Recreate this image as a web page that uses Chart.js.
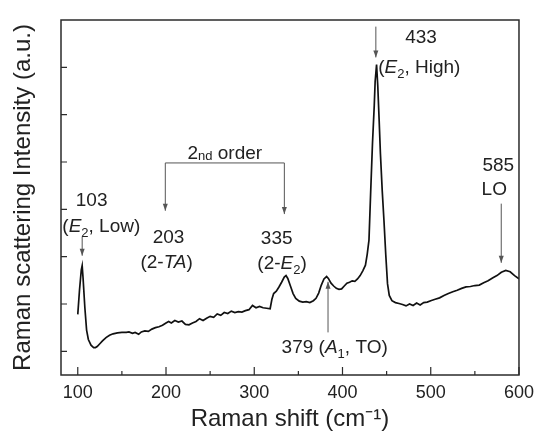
<!DOCTYPE html>
<html>
<head>
<meta charset="utf-8">
<script src="https://cdn.jsdelivr.net/npm/chart.js@4.4.0/dist/chart.umd.min.js"></script>
<style>
  html, body { margin: 0; padding: 0; background: #fff; }
</style>
</head>
<body>
<canvas id="raman-chart" width="541" height="436"></canvas>
<script>
// Raman shift (cm-1)
const ramanShift = [100, 102, 104, 105, 106, 108, 110, 112, 115, 118, 120, 122, 125, 128, 132, 136, 140, 145, 150, 155,
  158, 162, 165, 169, 172, 176, 180, 184, 188, 192, 196, 200, 203, 206, 210, 214, 218, 222, 226, 230,
  234, 238, 242, 246, 250, 254, 258, 262, 266, 270, 274, 278, 282, 286, 290, 294, 298, 302, 306, 310,
  314, 318, 320, 322, 325, 328, 331, 334, 336, 338, 341, 344, 347, 351, 355, 359, 363, 367, 370, 373,
  376, 379, 382, 384, 387, 390, 393, 396, 399, 402, 405, 408, 411, 414, 417, 420, 423, 426, 428, 430,
  432, 434, 436, 437, 438.6, 440, 441.5, 443, 445, 447, 449, 451, 453, 456, 460, 464, 468, 472, 476, 480,
  484, 488, 492, 496, 500, 505, 510, 515, 520, 525, 530, 535, 540, 545, 550, 555, 560, 565, 570, 575,
  580, 585, 590, 595, 600];
// intensity (a.u.)
const intensity = [1.78, 2.30, 2.72, 2.81, 2.55, 1.93, 1.45, 1.25, 1.13, 1.08, 1.08, 1.10, 1.16, 1.22, 1.29, 1.34, 1.37, 1.39, 1.40, 1.40,
  1.41, 1.38, 1.40, 1.36, 1.41, 1.43, 1.42, 1.47, 1.50, 1.52, 1.55, 1.60, 1.63, 1.60, 1.65, 1.62, 1.64, 1.57, 1.56, 1.60,
  1.63, 1.69, 1.65, 1.70, 1.74, 1.72, 1.79, 1.76, 1.82, 1.80, 1.85, 1.82, 1.84, 1.83, 1.86, 1.88, 1.97, 1.92, 1.95, 1.92,
  1.91, 1.90, 2.10, 2.22, 2.27, 2.36, 2.46, 2.57, 2.60, 2.54, 2.38, 2.22, 2.12, 2.06, 2.04, 2.05, 2.03, 2.07, 2.12, 2.23,
  2.40, 2.53, 2.58, 2.54, 2.44, 2.38, 2.33, 2.31, 2.32, 2.38, 2.44, 2.46, 2.49, 2.48, 2.53, 2.60, 2.70, 2.82, 3.05, 3.35,
  4.40, 5.40, 6.20, 6.70, 7.06, 6.60, 5.90, 5.17, 4.40, 3.76, 3.05, 2.43, 2.18, 2.07, 2.03, 2.01, 1.99, 1.96, 2.00, 1.97,
  2.02, 1.98, 2.03, 2.04, 2.07, 2.10, 2.13, 2.18, 2.22, 2.26, 2.29, 2.33, 2.36, 2.37, 2.39, 2.40, 2.45, 2.49, 2.55, 2.60,
  2.67, 2.71, 2.68, 2.60, 2.53];

const xTicks = [100, 200, 300, 400, 500, 600];
const xMinorTicks = [150, 250, 350, 450, 550];
const yTicks = [1, 2, 3, 4, 5, 6, 7];

const FONT = '"Liberation Sans", Arial, sans-serif';

// peak labels (text pieces), placed in data units
const labels = [
  { x: 115.7, y: 4.18, align: "center", parts: [{ t: "103" }] },
  { x: 82.5, y: 3.63, align: "left", parts: [{ t: "(" }, { t: "E", it: true }, { t: "2", sub: true }, { t: ", Low)" }] },
  { x: 266.6, y: 5.17, align: "center", parts: [{ t: "2" }, { t: "nd", small: true }, { t: " order" }] },
  { x: 202.9, y: 3.40, align: "center", parts: [{ t: "203" }] },
  { x: 200.7, y: 2.87, align: "center", parts: [{ t: "(2-" }, { t: "TA", it: true }, { t: ")" }] },
  { x: 325.4, y: 3.38, align: "center", parts: [{ t: "335" }] },
  { x: 331.5, y: 2.85, align: "center", parts: [{ t: "(2-" }, { t: "E", it: true }, { t: "2", sub: true }, { t: ")" }] },
  { x: 331, y: 1.08, align: "left", parts: [{ t: "379 (" }, { t: "A", it: true }, { t: "1", sub: true }, { t: ", TO)" }] },
  { x: 489, y: 7.63, align: "center", parts: [{ t: "433" }] },
  { x: 440.5, y: 7.0, align: "left", parts: [{ t: "(" }, { t: "E", it: true }, { t: "2", sub: true }, { t: ", High)" }] },
  { x: 576.5, y: 4.92, align: "center", parts: [{ t: "585" }] },
  { x: 572, y: 4.41, align: "center", parts: [{ t: "LO" }] },
];

// arrows: x, from y1 to tip at y2 (data units)
const arrows = [
  { x: 105, y1: 3.42, y2: 3.02 },
  { x: 383.6, y1: 1.40, y2: 2.47 },
  { x: 437.8, y1: 7.86, y2: 7.21 },
  { x: 579.9, y1: 4.12, y2: 2.87 },
  { x: 199.2, y1: 4.98, y2: 3.97 },
  { x: 334.1, y1: 4.98, y2: 3.90 },
];
// the horizontal part of the "2nd order" bracket
const bracket = { x1: 199.2, x2: 334.1, y: 4.98 };

function drawRich(ctx, parts, x, y, align) {
  let total = 0;
  const fonts = parts.map(p => {
    const size = p.sub || p.small ? 13 : 19;
    const f = (p.it ? "italic " : "") + size + "px " + FONT;
    ctx.font = f;
    const w = ctx.measureText(p.t).width;
    total += w;
    return { f, w };
  });
  let cx = align === "center" ? x - total / 2 : x;
  ctx.textAlign = "left";
  ctx.textBaseline = "middle";
  parts.forEach((p, i) => {
    ctx.font = fonts[i].f;
    let dy = 0;
    if (p.sub) dy = 7;
    if (p.small) dy = 2;
    ctx.fillText(p.t, cx, y + dy);
    cx += fonts[i].w;
  });
}

function arrowHead(ctx, x, y, dir) {
  // dir = 1 pointing down, -1 pointing up
  ctx.beginPath();
  ctx.moveTo(x, y);
  ctx.lineTo(x - 2.5, y - dir * 7);
  ctx.lineTo(x + 2.5, y - dir * 7);
  ctx.closePath();
  ctx.fill();
}

const framePlugin = {
  id: "frame",
  afterDatasetsDraw(chart) {
    const { ctx, chartArea, scales } = chart;
    const xs = scales.x, ys = scales.y;
    ctx.save();

    // box round the plot
    ctx.strokeStyle = "#2b2b2b";
    ctx.lineWidth = 1.5;
    ctx.strokeRect(chartArea.left, chartArea.top, chartArea.right - chartArea.left, chartArea.bottom - chartArea.top);

    // inward ticks
    ctx.lineWidth = 1.2;
    ctx.beginPath();
    xTicks.forEach(v => {
      const px = xs.getPixelForValue(v);
      ctx.moveTo(px, chartArea.bottom);
      ctx.lineTo(px, chartArea.bottom - 8);
    });
    xMinorTicks.forEach(v => {
      const px = xs.getPixelForValue(v);
      ctx.moveTo(px, chartArea.bottom);
      ctx.lineTo(px, chartArea.bottom - 4);
    });
    yTicks.forEach(v => {
      const py = ys.getPixelForValue(v);
      ctx.moveTo(chartArea.left, py);
      ctx.lineTo(chartArea.left + 6, py);
    });
    ctx.stroke();

    // arrows
    ctx.strokeStyle = "#555";
    ctx.fillStyle = "#555";
    ctx.lineWidth = 1;
    arrows.forEach(a => {
      const px = xs.getPixelForValue(a.x);
      const p1 = ys.getPixelForValue(a.y1);
      const p2 = ys.getPixelForValue(a.y2);
      ctx.beginPath();
      ctx.moveTo(px, p1);
      ctx.lineTo(px, p2);
      ctx.stroke();
      arrowHead(ctx, px, p2, p2 > p1 ? 1 : -1);
    });
    ctx.beginPath();
    ctx.moveTo(xs.getPixelForValue(bracket.x1), ys.getPixelForValue(bracket.y));
    ctx.lineTo(xs.getPixelForValue(bracket.x2), ys.getPixelForValue(bracket.y));
    ctx.stroke();

    // peak labels
    ctx.fillStyle = "#222";
    labels.forEach(l => {
      drawRich(ctx, l.parts, xs.getPixelForValue(l.x), ys.getPixelForValue(l.y), l.align);
    });
    ctx.restore();
  }
};

const points = ramanShift.map((x, i) => ({ x: x, y: intensity[i] }));

new Chart(document.getElementById("raman-chart"), {
  type: "line",
  data: {
    datasets: [{
      data: points,
      borderColor: "#111",
      borderWidth: 1.7,
      pointRadius: 0,
      tension: 0,
      fill: false,
    }],
  },
  options: {
    responsive: false,
    animation: false,
    layout: { padding: { top: 20, right: 15, left: 0, bottom: 0 } },
    plugins: { legend: { display: false }, tooltip: { enabled: false } },
    scales: {
      x: {
        type: "linear",
        min: 81,
        max: 600,
        afterBuildTicks: axis => { axis.ticks = xTicks.map(v => ({ value: v })); },
        afterFit: axis => { axis.height = 61; },
        grid: { display: false, drawTicks: false },
        border: { display: false },
        ticks: { color: "#222", padding: 7, font: { family: FONT, size: 18 }, maxRotation: 0 },
        title: {
          display: true,
          text: "Raman shift (cm\u207B\u00B9)",
          color: "#222",
          font: { family: FONT, size: 24 },
          padding: { top: 0, bottom: 2 },
        },
      },
      y: {
        min: 0.5,
        max: 8,
        afterBuildTicks: axis => { axis.ticks = yTicks.map(v => ({ value: v })); },
        afterFit: axis => { axis.width = 61; },
        grid: { display: false, drawTicks: false },
        border: { display: false },
        ticks: { display: false },
        title: {
          display: true,
          text: "Raman scattering Intensity (a.u.)",
          color: "#222",
          font: { family: FONT, size: 24 },
          padding: { top: 9, bottom: 0 },
        },
      },
    },
  },
  plugins: [framePlugin],
});
</script>
</body>
</html>
